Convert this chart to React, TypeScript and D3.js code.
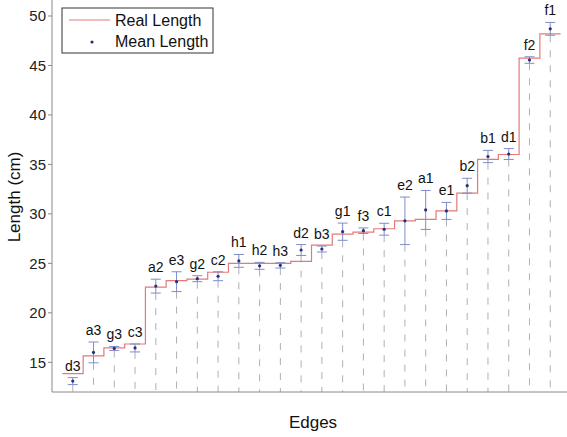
import React from "react";
import * as d3 from "d3";

const edges = ["d3","a3","g3","c3","a2","e3","g2","c2","h1","h2","h3","d2","b3","g1","f3","c1","e2","a1","e1","b2","b1","d1","f2","f1"];
const realLength = [13.85,15.65,16.45,16.85,22.6,23.25,23.4,24.1,25.0,25.0,25.0,25.2,26.85,27.95,28.15,28.5,29.3,29.45,30.3,32.1,35.5,36.0,45.75,48.2];
const meanLength = [13.1,16.0,16.4,16.45,22.7,23.15,23.45,23.7,25.25,24.75,24.8,26.35,26.45,28.2,28.3,28.45,29.3,30.4,30.3,32.85,35.8,36.05,45.55,48.7];
const errLength = [0.35,1.05,0.2,0.4,0.7,1.0,0.3,0.45,0.65,0.35,0.27,0.55,0.3,0.87,0.28,0.6,2.4,1.97,0.86,0.75,0.62,0.55,0.33,0.65];
const yTicks = [15,20,25,30,35,40,45,50];

const W = 567, H = 437;
const FONT = "'Liberation Sans', Arial, sans-serif";

export default function App() {
  const x = d3.scaleLinear().domain([-1, 24]).range([52, 571]);
  const y = d3.scaleLinear().domain([12, 52]).range([392, -3.8]);

  const stepPts: [number, number][] = realLength.map((v, i) => [i - 0.5, v]);
  stepPts.push([realLength.length - 0.5, realLength[realLength.length - 1]]);
  const stepLine = d3.line<[number, number]>()
    .x(d => x(d[0]))
    .y(d => y(d[1]))
    .curve(d3.curveStepAfter);

  const cap = 5;
  const blue = "#7f8cc8";
  const dot = "#27307a";
  const red = "#e47a78";

  return (
    <svg width={W} height={H} style={{ position: "absolute", left: 0, top: 0, background: "#fff" }} fontFamily={FONT}>
      <rect x={0} y={0} width={W} height={H} fill="#fff" />
      {/* dashed guide lines */}
      {meanLength.map((m, i) => (
        <line key={"g" + i} x1={x(i)} x2={x(i)} y1={y(m - errLength[i])} y2={y(12)}
          stroke="#b0b0b0" strokeWidth={1} strokeDasharray="7,8" />
      ))}
      {/* axes */}
      <line x1={52} x2={52} y1={y(52)} y2={y(12)} stroke="#8a8a8a" strokeWidth={1} />
      <line x1={52} x2={x(24)} y1={y(12)} y2={y(12)} stroke="#8a8a8a" strokeWidth={1} />
      {yTicks.map(t => (
        <g key={"t" + t}>
          <line x1={48} x2={52} y1={y(t)} y2={y(t)} stroke="#8a8a8a" strokeWidth={1} />
          <text x={46} y={y(t)} dy="0.35em" textAnchor="end" fontSize={15} fill="#222">{t}</text>
        </g>
      ))}
      {/* step line */}
      <path d={stepLine(stepPts) || ""} fill="none" stroke={red} strokeWidth={1.2} />
      {/* error bars */}
      {meanLength.map((m, i) => {
        const cx = x(i);
        const top = y(m + errLength[i]);
        const bot = y(m - errLength[i]);
        return (
          <g key={"e" + i}>
            <line x1={cx} x2={cx} y1={top} y2={bot} stroke={blue} strokeWidth={1} />
            <line x1={cx - cap} x2={cx + cap} y1={top} y2={top} stroke={blue} strokeWidth={1} />
            <line x1={cx - cap} x2={cx + cap} y1={bot} y2={bot} stroke={blue} strokeWidth={1} />
            <circle cx={cx} cy={y(m)} r={1.6} fill={dot} />
            <text x={cx} y={top - 7} textAnchor="middle" fontSize={14} fill="#111">{edges[i]}</text>
          </g>
        );
      })}
      {/* legend */}
      <rect x={62} y={8} width={151} height={45} fill="#fff" stroke="#333" strokeWidth={1} />
      <line x1={69} x2={110} y1={20} y2={20} stroke={red} strokeWidth={1.2} />
      <text x={115} y={26} fontSize={16} fill="#111">Real Length</text>
      <circle cx={92} cy={42} r={1.6} fill={dot} />
      <text x={115} y={47} fontSize={16} fill="#111">Mean Length</text>
      {/* axis titles */}
      <text x={313} y={428} textAnchor="middle" fontSize={17} fill="#111">Edges</text>
      <text transform={`translate(20,${197}) rotate(-90)`} textAnchor="middle" fontSize={17} fill="#111">Length (cm)</text>
    </svg>
  );
}
